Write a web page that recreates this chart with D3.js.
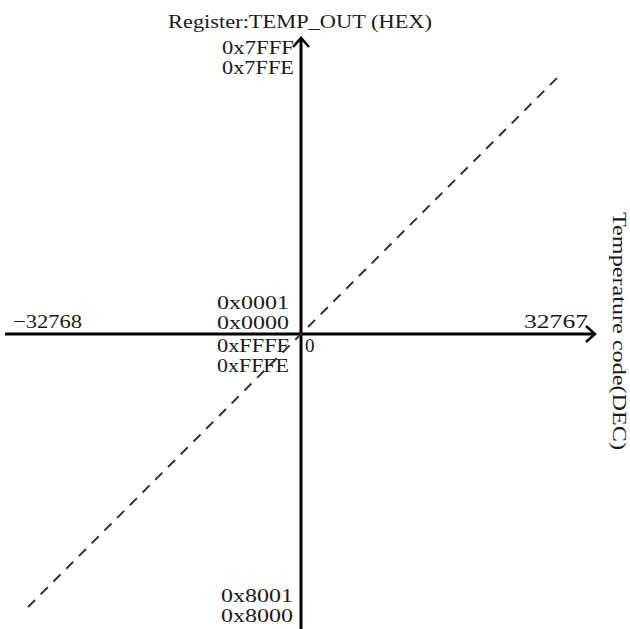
<!DOCTYPE html>
<html>
<head>
<meta charset="utf-8">
<script src="https://cdn.jsdelivr.net/npm/d3@7"></script>
<style>
  body { margin: 0; background: #fff; }
  text { font-family: "Liberation Serif", "DejaVu Serif", serif; fill: #1a1a1a; }
</style>
</head>
<body>
<div id="chart"></div>
<script>
// code range of the register (signed 16 bit)
var codeMin = -32768;
var codeMax = 32767;

// dashed transfer line end points (DEC code -> register)
var lineCodes = [-32768, 30720];

// hex labels on the vertical axis, grouped by where they sit
var topHex = ["0x7FFF", "0x7FFE"];
var midHexUp = ["0x0001", "0x0000"];
var midHexDown = ["0xFFFF", "0xFFFE"];
var bottomHex = ["0x8001", "0x8000"];

// decimal labels along the horizontal axis
var decLabels = ["\u221232768", "32767"];

var W = 630, H = 629;

var svg = d3.select("#chart").append("svg")
  .attr("width", W)
  .attr("height", H);

var x = d3.scaleLinear()
  .domain([codeMin, 32768])
  .range([28, 574]);

var y = d3.scaleLinear()
  .domain([codeMin, 32768])
  .range([607, 61]);

var x0 = x(0), y0 = y(0);

// axes
svg.append("line")
  .attr("x1", 5).attr("x2", 595)
  .attr("y1", y0).attr("y2", y0)
  .style("stroke", "#000").style("stroke-width", 3);

svg.append("path")
  .attr("d", `M${595 - 9},${y0 - 8} L595,${y0} L${595 - 9},${y0 + 8}`)
  .style("fill", "none").style("stroke", "#000").style("stroke-width", 2.5);

svg.append("line")
  .attr("x1", x0).attr("x2", x0)
  .attr("y1", 629).attr("y2", 38)
  .style("stroke", "#000").style("stroke-width", 3);

svg.append("path")
  .attr("d", `M${x0 - 8},${38 + 9} L${x0},38 L${x0 + 8},${38 + 9}`)
  .style("fill", "none").style("stroke", "#000").style("stroke-width", 2.5);

// dashed transfer line
var line = d3.line()
  .x(d => x(d))
  .y(d => y(d));

svg.append("path")
  .datum(lineCodes)
  .attr("d", line)
  .style("fill", "none")
  .style("stroke", "#333")
  .style("stroke-width", 2)
  .style("stroke-dasharray", "10,8");

// hex label helper
function hexGroup(labels, baseY, right) {
  svg.selectAll(null)
    .data(labels)
    .enter()
    .append("text")
    .attr("x", right)
    .attr("y", (d, i) => baseY + i * 20)
    .attr("text-anchor", "end")
    .attr("textLength", 72)
    .attr("lengthAdjust", "spacingAndGlyphs")
    .style("font-size", "18px")
    .text(d => d);
}

hexGroup(topHex, y(codeMax) - 7, x0 - 7);
hexGroup(midHexUp, y0 - 25, x0 - 12);
hexGroup(midHexDown, y0 + 18, x0 - 12);
hexGroup(bottomHex, y(codeMin) - 5, x0 - 8);

// zero label
svg.append("text")
  .attr("x", x0 + 4)
  .attr("y", y0 + 18)
  .style("font-size", "19px")
  .text("0");

// decimal labels
svg.selectAll("text.dec")
  .data(decLabels)
  .enter()
  .append("text")
  .attr("class", "dec")
  .attr("x", (d, i) => i == 0 ? 13 : 588)
  .attr("y", y0 - 6)
  .attr("text-anchor", (d, i) => i == 0 ? "start" : "end")
  .attr("textLength", (d, i) => i == 0 ? 69 : 64)
  .attr("lengthAdjust", "spacingAndGlyphs")
  .style("font-size", "19px")
  .text(d => d);

// axis titles
svg.append("text")
  .attr("x", 168)
  .attr("y", 28)
  .attr("textLength", 264)
  .attr("lengthAdjust", "spacingAndGlyphs")
  .style("font-size", "19px")
  .text("Register:TEMP_OUT (HEX)");

svg.append("text")
  .attr("transform", "translate(613,212) rotate(90)")
  .attr("textLength", 238)
  .attr("lengthAdjust", "spacingAndGlyphs")
  .style("font-size", "19px")
  .text("Temperature code(DEC)");
</script>
</body>
</html>
